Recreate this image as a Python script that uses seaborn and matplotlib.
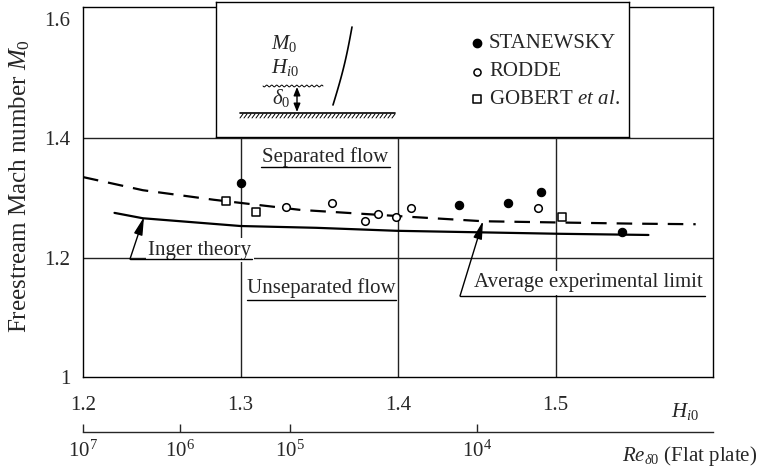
import numpy as np
import matplotlib
matplotlib.use('Agg')
import matplotlib.pyplot as plt
import seaborn as sns

# ---------------- data ----------------
stan_H = [1.300, 1.4386, 1.4696, 1.4905, 1.5424]
stan_M = [1.325, 1.288, 1.291, 1.310, 1.243]
rodde_H = [1.329, 1.358, 1.379, 1.387, 1.399, 1.408, 1.4886]
rodde_M = [1.285, 1.291, 1.261, 1.273, 1.268, 1.283, 1.283]
gobert_H = [1.291, 1.310, 1.504]
gobert_M = [1.295, 1.276, 1.268]
avg_H = [1.200, 1.238, 1.283, 1.338, 1.410, 1.454, 1.500, 1.549, 1.589]
avg_M = [1.335, 1.313, 1.297, 1.280, 1.268, 1.261, 1.259, 1.257, 1.256]
inger_H = [1.220, 1.238, 1.300, 1.348, 1.399, 1.502, 1.559]
inger_M = [1.275, 1.266, 1.253, 1.250, 1.245, 1.240, 1.238]
h_ticks = [1.2, 1.3, 1.4, 1.5]
h_tick_labels = ['1.2', '1.3', '1.4', '1.5']
m_ticks = [1.0, 1.2, 1.4, 1.6]
m_tick_labels = ['1', '1.2', '1.4', '1.6']
re_tick_pos = [1.2, 1.2614, 1.3316, 1.45]
re_tick_labels = [r'$10^7$', r'$10^6$', r'$10^5$', r'$10^4$']
grid_H = [1.3, 1.4, 1.5]
grid_M = [1.2, 1.4]

# ---------------- style ----------------
sns.set_style('white')
plt.rcParams['font.family'] = ['Liberation Serif', 'DejaVu Serif']
plt.rcParams['mathtext.fontset'] = 'custom'
plt.rcParams['mathtext.rm'] = 'Liberation Serif'
plt.rcParams['mathtext.it'] = 'Liberation Serif:italic'
plt.rcParams['mathtext.bf'] = 'Liberation Serif:bold'

W, H = 758, 471
FS = 15
fig = plt.figure(figsize=(W / 100, H / 100), dpi=100)

def fx(x):
    return x / W

def fy(y):
    return 1 - y / H

ax = fig.add_axes([fx(83), fy(377), 630 / W, 370 / H])
ax.set_xlim(1.2, 1.6)
ax.set_ylim(1.0, 1.62)
for s in ax.spines.values():
    s.set_color('black')
    s.set_linewidth(1.0)

for g in grid_H:
    ax.axvline(g, color='#222222', lw=1.0, zorder=1)
for g in grid_M:
    ax.axhline(g, color='#222222', lw=1.0, zorder=1)

# curves
sns.lineplot(x=avg_H, y=avg_M, ax=ax, color='black', lw=1.6,
             linestyle=(0, (7, 4.5)), zorder=3, sort=False)
sns.lineplot(x=inger_H, y=inger_M, ax=ax, color='black', lw=1.6, zorder=3, sort=False)

# points
sns.scatterplot(x=stan_H, y=stan_M, ax=ax, marker='o', s=36, color='black',
                edgecolor='black', linewidth=0.8, zorder=4)
sns.scatterplot(x=rodde_H, y=rodde_M, ax=ax, marker='o', s=30, facecolor='white',
                edgecolor='black', linewidth=1.1, zorder=4)
sns.scatterplot(x=gobert_H, y=gobert_M, ax=ax, marker='s', s=30, facecolor='white',
                edgecolor='black', linewidth=1.1, zorder=4)

# ticks
ax.set_xticks(h_ticks)
ax.set_xticklabels(h_tick_labels)
ax.set_yticks(m_ticks)
ax.set_yticklabels(m_tick_labels)
ax.tick_params(axis='x', length=0, pad=14, labelsize=FS)
ax.tick_params(axis='y', length=0, pad=9, labelsize=FS)
ax.set_xlabel('')
ax.set_ylabel('')

# Reynolds number secondary axis
sec = ax.secondary_xaxis(-0.1486)
sec.set_xticks(re_tick_pos)
sec.set_xticklabels(re_tick_labels)
sec.tick_params(direction='in', length=6, width=1.0, pad=6, labelsize=FS)
sec.spines['bottom'].set_linewidth(1.0)

# axis labels
fig.text(fx(20), fy(186), r'Freestream Mach number $M_0$', rotation=90,
         ha='center', va='center', fontsize=18)
fig.text(fx(685), fy(411), r'$H_{i0}$', ha='center', va='center', fontsize=FS)
fig.text(fx(622), fy(456), r'$Re_{\delta0}$ (Flat plate)', ha='left', va='center',
         fontsize=FS)

# annotations
def px2d(x, y):
    return 1.2 + (x - 83) / 1575.0, 1.0 + (377 - y) / (370 / 0.62)

wb = dict(facecolor='white', edgecolor='none', pad=1.5)

def label(text, cx, cy, ul_x0, ul_x1, ul_y):
    hx, my = px2d(cx, cy)
    ax.text(hx, my, text, ha='center', va='center', fontsize=FS, bbox=wb, zorder=5)
    a, b = px2d(ul_x0, ul_y)
    c, d = px2d(ul_x1, ul_y)
    ax.plot([a, c], [b, d], color='black', lw=1.0, zorder=6)

label('Separated flow', 325, 157, 261, 390, 167)
label('Unseparated flow', 321, 288, 247, 396, 300)
label('Inger theory', 200, 250, 130, 252, 259)
label('Average experimental limit', 588, 283, 460, 705, 296)

arrow = dict(arrowstyle='-|>,head_length=0.9,head_width=0.22', color='black', lw=1.0,
             shrinkA=0, shrinkB=0, mutation_scale=12)
ax.annotate('', xy=px2d(144, 217), xytext=px2d(130, 259), arrowprops=arrow, zorder=6)
ax.annotate('', xy=px2d(483, 221), xytext=px2d(460, 296), arrowprops=arrow, zorder=6)

# ---------------- inset schematic + legend ----------------
axi = fig.add_axes([fx(216), fy(137), 413 / W, 135 / H])
axi.set_xlim(216, 629)
axi.set_ylim(137, 2)
axi.set_xticks([])
axi.set_yticks([])
axi.set_facecolor('white')
for s in axi.spines.values():
    s.set_color('black')
    s.set_linewidth(1.0)

axi.text(284, 43, r'$M_0$', ha='center', va='center', fontsize=FS)
axi.text(285, 67, r'$H_{i0}$', ha='center', va='center', fontsize=FS)
axi.text(281, 98, r'$\delta_0$', ha='center', va='center', fontsize=FS)
xw = np.linspace(263, 323, 300)
axi.plot(xw, 86 + 0.9 * np.sin(2 * np.pi * (xw - 263) / 5.0), color='black', lw=0.7)
axi.annotate('', xy=(297, 87), xytext=(297, 112),
             arrowprops=dict(arrowstyle='<|-|>,head_length=0.5,head_width=0.2',
                             color='black', lw=1.0, shrinkA=0, shrinkB=0,
                             mutation_scale=10))
axi.plot([240, 395], [113, 113], color='black', lw=1.2)
for xh in np.arange(243, 396, 4.0):
    axi.plot([xh, xh - 3], [114, 118], color='black', lw=0.7)
t = np.linspace(0, 1, 50)
axi.plot(333 + 19 * t + 1.5 * np.sin(np.pi * t), 105 - 78 * t, color='black', lw=1.2)

axi.scatter([477], [43], s=36, marker='o', color='black')
axi.scatter([477], [72], s=26, marker='o', facecolor='white', edgecolor='black', lw=1.1)
axi.scatter([477], [99], s=26, marker='s', facecolor='white', edgecolor='black', lw=1.1)
axi.text(489, 43, 'STANEWSKY', ha='left', va='center', fontsize=FS)
axi.text(489, 72, 'RODDE', ha='left', va='center', fontsize=FS)
axi.text(489, 99, r'GOBERT $\mathit{et\ al.}$', ha='left', va='center', fontsize=FS)

fig.savefig('out.png', dpi=100)
